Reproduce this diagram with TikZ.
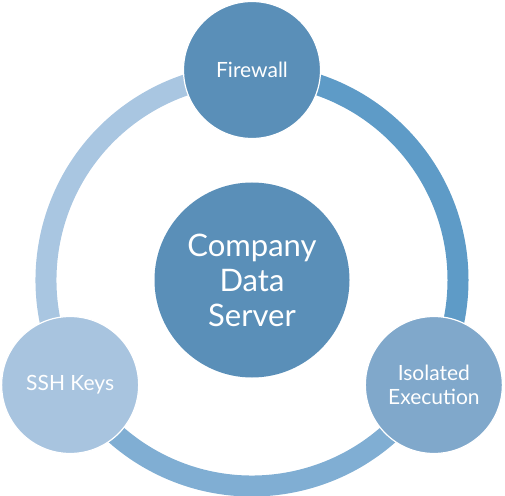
\documentclass[tikz,border=0pt]{standalone}
\usepackage{fontspec}
\setmainfont{Lato}
\definecolor{darkblue}{HTML}{5A8FB8}
\definecolor{midblue}{HTML}{80A8CB}
\definecolor{lightblue}{HTML}{A8C4DF}
\definecolor{ringdark}{HTML}{5E9BC7}
\definecolor{ringmid}{HTML}{80AED3}
\definecolor{ringlight}{HTML}{A9C6E1}
\begin{document}
\begin{tikzpicture}[x=1pt,y=1pt,
	small/.style={circle,draw=white,line width=1.2pt,minimum size=137pt,inner sep=0pt,text=white,align=center,font=\fontsize{21}{24}\selectfont},
	big/.style={circle,fill=darkblue,minimum size=195pt,inner sep=0pt,text=white,align=center,font=\fontsize{31}{35}\selectfont}]
\useasboundingbox (0,0) rectangle (505,495);
\coordinate (c) at (252,215);

% ring pieces
\foreach \a/\b/\col in {90/-30/ringdark,-30/-150/ringmid,-150/-270/ringlight}
{
	\draw[line width=21pt,\col] ([shift={(\a:206)}]c) arc (\a:\b:206);
}

\node[big] (srv) at (c) {Company\\Data\\Server};
\node[small,fill=darkblue] (fw) at ([shift={(90:210)}]c) {Firewall};
\node[small,fill=midblue] (iso) at ([shift={(-30:210)}]c) {Isolated\\Execution};
\node[small,fill=lightblue] (ssh) at ([shift={(210:210)}]c) {SSH Keys};

\end{tikzpicture}
\end{document}
